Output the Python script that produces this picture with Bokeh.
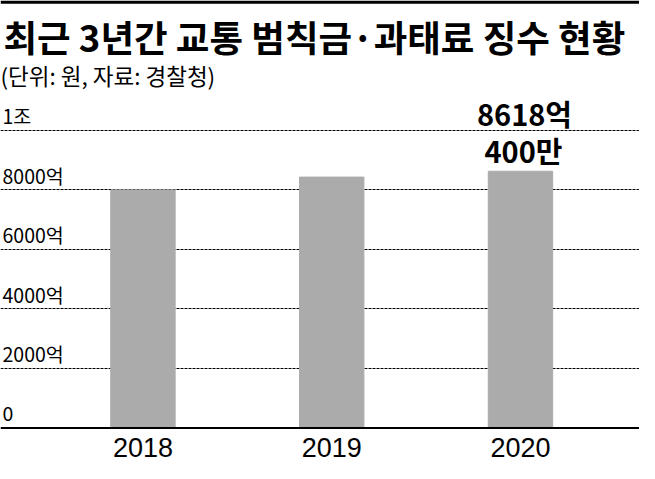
from bokeh.plotting import figure
from bokeh.models import Range1d, FixedTicker, Span, BoxAnnotation
from bokeh.core.properties import value
from bokeh.embed import file_html
from bokeh.resources import INLINE

# ---- data ----
years = ["2018", "2019", "2020"]
fines_eok = [7990, 8420, 8618.04]          # 억원
y_ticks = [0, 2000, 4000, 6000, 8000, 10000]
y_tick_labels = ["0", "2000억", "4000억", "6000억", "8000억", "1조"]
title_text = "최근 3년간 교통 범칙금·과태료 징수 현황"
subtitle_text = "(단위: 원, 자료: 경찰청)"

last = fines_eok[-1]
annot_lines = [f"{int(last)}억", f"{round((last - int(last)) * 10000)}만"]

# ---- layout (reference pixels -> figure) ----
W, H = 639, 463
REF_W, REF_H = 655, 479
sx, sy = W / REF_W, H / REF_H
FONT = "Noto Sans CJK KR"
DIGITS = "Liberation Sans"

base_ref = 442.3
top_tick_ref = 134.0
ppu = (base_ref - top_tick_ref) / 10000.0
first_ref, step_ref = 146.0, 193.5

x0 = -first_ref / step_ref
x1 = (REF_W - first_ref) / step_ref
y0 = -(REF_H - base_ref) / ppu
y1 = base_ref / ppu


def yref(py):
    return (base_ref - py) / ppu


def xref(px):
    return (px - first_ref) / step_ref


p = figure(width=W, height=H, x_range=Range1d(x0, x1), y_range=Range1d(y0, y1),
           output_backend="svg", toolbar_location=None, min_border=0,
           x_axis_location=None, y_axis_location=None)
p.outline_line_color = None
p.background_fill_color = "white"
p.border_fill_color = "white"
p.xgrid.visible = False
p.ygrid.ticker = FixedTicker(ticks=y_ticks[1:])
p.ygrid.grid_line_color = "black"
p.ygrid.grid_line_width = 1
p.ygrid.grid_line_dash = "3 1"

xs = list(range(len(years)))
p.vbar(x=xs, top=fines_eok, bottom=0, width=66 / step_ref, color="#ababab")

p.add_layout(Span(location=0, dimension="width", line_color="black", line_width=2))
p.add_layout(BoxAnnotation(bottom=yref(3.3), fill_color="black", fill_alpha=1, line_color=None))

# title & subtitle
p.text(x=[xref(3)], y=[yref(37.5)], text=[title_text], text_font=value(FONT),
       text_font_style="bold", text_font_size="36.5px", text_baseline="middle",
       text_align="left", text_color="black")
p.text(x=[xref(0)], y=[yref(77)], text=[subtitle_text], text_font=value(FONT),
       text_font_size="22.5px", text_baseline="middle", text_align="left", text_color="black")

# y tick labels (inside, above gridlines)
p.text(x=[x0] * len(y_ticks), y=y_ticks, text=y_tick_labels, x_offset=2, y_offset=-15 * sy,
       text_font=value(FONT), text_font_size="19.5px", text_baseline="middle",
       text_align="left", text_color="black")

# x category labels
p.text(x=xs, y=[0] * len(xs), text=years, y_offset=19.5, text_font=value(DIGITS),
       text_font_size="27px", text_baseline="middle", text_align="center",
       text_color="black")

# value annotation for 2020
p.text(x=[xs[-1]], y=[last], text=[annot_lines[0]], y_offset=-60.5 * sy, x_offset=4,
       text_font=value(FONT), text_font_size="29px", text_font_style="bold",
       text_baseline="middle", text_align="center", text_color="black")
p.text(x=[xs[-1]], y=[last], text=[annot_lines[1]], y_offset=-22 * sy, x_offset=3,
       text_font=value(FONT), text_font_size="29px", text_font_style="bold",
       text_baseline="middle", text_align="center", text_color="black")

open("out.html", "w").write(file_html(p, INLINE))
